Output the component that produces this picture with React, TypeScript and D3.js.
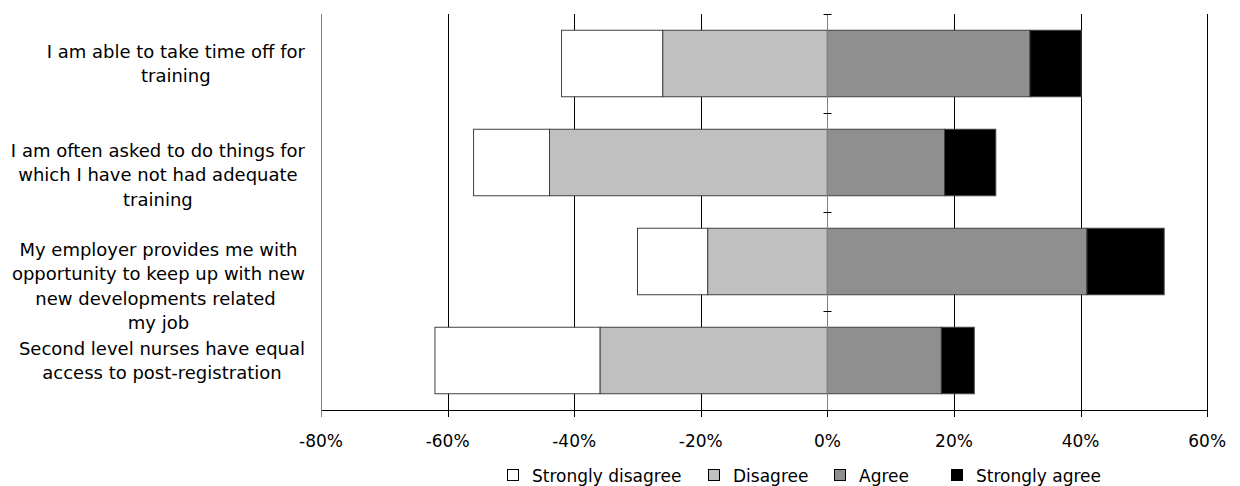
import React, { useEffect, useRef } from "react";
import * as d3 from "d3";

const categories: string[][] = [
  ["I am able to take time off for", "training"],
  ["I am often asked to do things for", "which I have not had adequate", "training"],
  ["My employer provides me with", "opportunity to keep up with new", "new developments related ", "my job"],
  ["Second level nurses have equal", "access to post-registration"],
];
const stronglyDisagree = [16, 12, 11.1, 26.1];
const disagree = [26, 43.9, 18.9, 35.9];
const agree = [32, 18.5, 41, 18];
const stronglyAgree = [8.1, 8.1, 12.2, 5.2];
const seriesNames = ["Strongly disagree", "Disagree", "Agree", "Strongly agree"];
const seriesColors = ["#ffffff", "#c0c0c0", "#8f8f8f", "#000000"];
const xTicks = [-80, -60, -40, -20, 0, 20, 40, 60];

const W = 1240;
const H = 486;
const FONT = "'DejaVu Sans', Verdana, sans-serif";
const legendX = [507, 708, 834, 951];

export default function App() {
  const ref = useRef<SVGSVGElement | null>(null);

  useEffect(() => {
    const svg = d3.select(ref.current);
    svg.selectAll("*").remove();

    const x = d3.scaleLinear().domain([-80, 60]).range([321, 1207.2]);
    const idx = categories.map((_, i) => String(i));
    const y = d3.scaleBand().domain(idx).range([14, 410]).paddingInner(0).paddingOuter(0);
    const bw = y.bandwidth();
    const barH = 66.5;
    const fmt = (d: number) => `${d}%`;

    // gridlines
    svg
      .append("g")
      .selectAll("line")
      .data(xTicks.filter((t) => t !== 0 && t !== -80))
      .join("line")
      .attr("x1", (d) => Math.round(x(d)) + 0.5)
      .attr("x2", (d) => Math.round(x(d)) + 0.5)
      .attr("y1", 14)
      .attr("y2", 410)
      .attr("stroke", "#000")
      .attr("stroke-width", 1);

    // left axis line
    svg
      .append("line")
      .attr("x1", Math.round(x(-80)) + 0.5)
      .attr("x2", Math.round(x(-80)) + 0.5)
      .attr("y1", 14)
      .attr("y2", 410)
      .attr("stroke", "#808080");

    // stacked bars
    const segs = categories
      .map((_, i) => {
        const sd = stronglyDisagree[i];
        const di = disagree[i];
        const ag = agree[i];
        const sa = stronglyAgree[i];
        return [
          { s: 0, x0: -(sd + di), x1: -di },
          { s: 1, x0: -di, x1: 0 },
          { s: 2, x0: 0, x1: ag },
          { s: 3, x0: ag, x1: ag + sa },
        ].map((seg) => ({ ...seg, row: i }));
      })
      .flat();
    svg
      .append("g")
      .selectAll("rect")
      .data(segs)
      .join("rect")
      .attr("x", (d) => x(d.x0))
      .attr("width", (d) => x(d.x1) - x(d.x0))
      .attr("y", (d) => (y(String(d.row)) as number) + (bw - barH) / 2)
      .attr("height", barH)
      .attr("fill", (d) => seriesColors[d.s])
      .attr("stroke", "#404040")
      .attr("stroke-width", 1);

    // zero axis with ticks
    const zx = Math.round(x(0)) + 0.5;
    svg
      .append("line")
      .attr("x1", zx)
      .attr("x2", zx)
      .attr("y1", 14)
      .attr("y2", 410)
      .attr("stroke", "#808080");
    const bounds = idx.map((c) => y(c) as number);
    svg
      .append("g")
      .selectAll("line")
      .data(bounds)
      .join("line")
      .attr("x1", zx - 4)
      .attr("x2", zx + 4)
      .attr("y1", (d) => Math.round(d) + 0.5)
      .attr("y2", (d) => Math.round(d) + 0.5)
      .attr("stroke", "#000");

    // bottom axis
    const axis = svg.append("g");
    axis
      .append("line")
      .attr("x1", Math.round(x(-80)))
      .attr("x2", Math.round(x(60)) + 1)
      .attr("y1", 410.5)
      .attr("y2", 410.5)
      .attr("stroke", "#000");
    axis
      .selectAll("line.tick")
      .data(xTicks)
      .join("line")
      .attr("class", "tick")
      .attr("x1", (d) => Math.round(x(d)) + 0.5)
      .attr("x2", (d) => Math.round(x(d)) + 0.5)
      .attr("y1", 410)
      .attr("y2", 417)
      .attr("stroke", (d) => (d === -80 ? "#808080" : "#000"));
    axis
      .selectAll("text")
      .data(xTicks)
      .join("text")
      .attr("x", (d) => x(d))
      .attr("y", 447)
      .attr("text-anchor", "middle")
      .attr("font-family", FONT)
      .attr("font-size", 17)
      .attr("fill", "#000")
      .text((d) => fmt(d));

    // category labels: lines centred within a block right-aligned at x=305
    const labelG = svg.append("g");
    categories.forEach((lines, i) => {
      const cy = (y(String(i)) as number) + bw / 2;
      const g = labelG.append("g");
      const texts = g
        .selectAll("text")
        .data(lines)
        .join("text")
        .attr("y", (_, j) => cy - 6 + j * 24.5)
        .attr("text-anchor", "middle")
        .attr("font-family", FONT)
        .attr("font-size", 18)
        .attr("fill", "#000")
        .style("white-space", "pre")
        .text((d) => d);
      let maxW = 0;
      texts.each(function () {
        maxW = Math.max(maxW, (this as SVGTextElement).getComputedTextLength());
      });
      texts.attr("x", 305 - maxW / 2);
    });

    // legend
    const leg = svg.append("g");
    seriesNames.forEach((name, i) => {
      const lx = legendX[i];
      leg
        .append("rect")
        .attr("x", lx + 0.5)
        .attr("y", 469.5)
        .attr("width", 11)
        .attr("height", 11)
        .attr("fill", seriesColors[i])
        .attr("stroke", "#000");
      leg
        .append("text")
        .attr("x", lx + 25)
        .attr("y", 482)
        .attr("font-family", FONT)
        .attr("font-size", 17)
        .attr("fill", "#000")
        .text(name);
    });
  }, []);

  return (
    <div style={{ position: "absolute", left: 0, top: 0 }}>
      <svg ref={ref} width={W} height={H} style={{ display: "block", background: "#fff" }} />
    </div>
  );
}
